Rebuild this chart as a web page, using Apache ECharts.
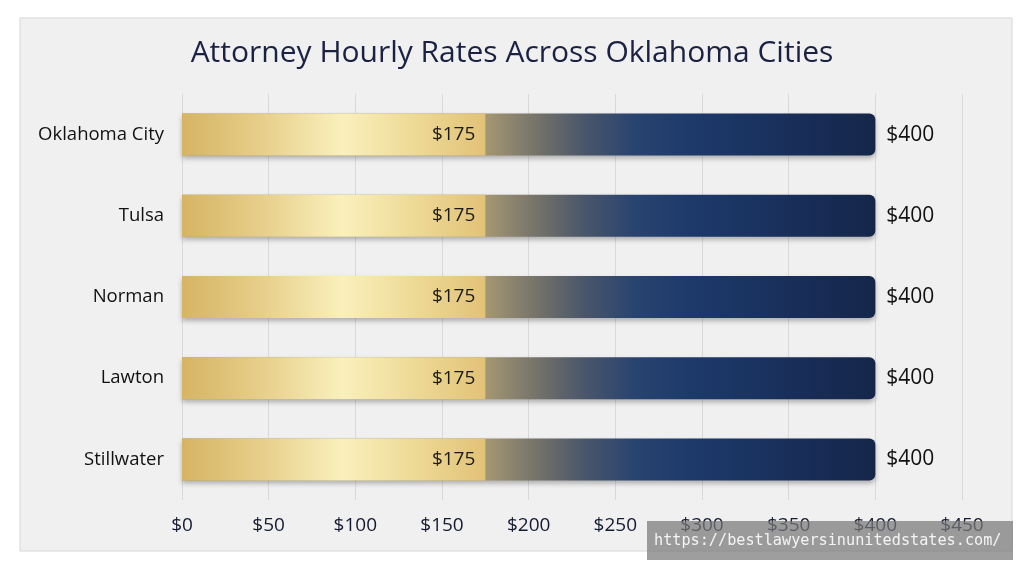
<!DOCTYPE html>
<html>
<head>
<meta charset="utf-8">
<script src="https://cdn.jsdelivr.net/npm/echarts@6/dist/echarts.min.js"></script>
<style>
	html, body { margin: 0; padding: 0; background: #fff; }
	#chart { width: 1024px; height: 572px; }
</style>
</head>
<body>
<div id="chart"></div>
<script>
// data
var cities = ['Oklahoma City', 'Tulsa', 'Norman', 'Lawton', 'Stillwater'];
var lowRates = [175, 175, 175, 175, 175];   // 低端费率
var highRates = [400, 400, 400, 400, 400];  // 高端费率
var axisMax = 450;
var axisStep = 50;

var FONT = '"Open Sans", "Noto Sans", sans-serif';

var chart = echarts.init(document.getElementById('chart'));

var option = {
	backgroundColor: '#ffffff',
	animation: false,
	title: {
		text: 'Attorney Hourly Rates Across Oklahoma Cities',
		left: 'center',
		top: 33,
		textStyle: {
			fontFamily: FONT,
			fontSize: 30,
			fontWeight: 'normal',
			color: '#1b2142'
		}
	},
	graphic: [
		{ // 背景面板
			type: 'rect',
			z: -10,
			shape: { x: 20, y: 18, width: 992, height: 533 },
			style: { fill: '#f0f0f0', stroke: '#d6d6d6', lineWidth: 1 }
		},
		{ // 水印
			type: 'rect',
			z: 100,
			shape: { x: 647, y: 521, width: 366, height: 39 },
			style: { fill: 'rgba(120,120,120,0.72)' }
		},
		{
			type: 'text',
			z: 101,
			left: 654,
			top: 534,
			style: {
				text: 'https://bestlawyersinunitedstates.com/',
				fill: '#f4f4f4',
				font: '15.2px "DejaVu Sans Mono", monospace'
			}
		}
	],
	grid: {
		left: 182,
		right: 62,
		top: 94,
		bottom: 72
	},
	xAxis: {
		type: 'value',
		min: 0,
		max: axisMax,
		interval: axisStep,
		axisLine: { show: false },
		axisTick: { show: false },
		splitLine: { lineStyle: { color: '#d9d9d9', width: 1 } },
		axisLabel: {
			formatter: function(v) { return '$' + v; },
			fontFamily: FONT,
			fontSize: 19,
			color: '#151a30',
			margin: 16
		}
	},
	yAxis: {
		type: 'category',
		data: cities,
		inverse: true,
		axisLine: { show: false },
		axisTick: { show: false },
		axisLabel: {
			fontFamily: FONT,
			fontSize: 18.5,
			color: '#111111',
			margin: 18
		}
	},
	series: [
		{
			name: 'High',
			type: 'bar',
			data: highRates,
			barWidth: 42,
			barGap: '-100%',
			z: 2,
			itemStyle: {
				borderRadius: [0, 6, 6, 0],
				shadowColor: 'rgba(0,0,0,0.28)',
				shadowBlur: 5,
				shadowOffsetY: 3,
				color: {
					type: 'linear', x: 0, y: 0, x2: 1, y2: 0,
					colorStops: [
						{ offset: 0, color: '#a89a72' },
						{ offset: 0.44, color: '#a39672' },
						{ offset: 0.51, color: '#76736a' },
						{ offset: 0.58, color: '#4a566a' },
						{ offset: 0.65, color: '#2a4470' },
						{ offset: 0.73, color: '#1d3a6b' },
						{ offset: 0.86, color: '#19305c' },
						{ offset: 1, color: '#15264a' }
					]
				}
			},
			label: {
				show: true,
				position: 'right',
				distance: 11,
				formatter: function(p) { return '$' + p.value; },
				fontFamily: FONT,
				fontSize: 21,
				color: '#111111'
			}
		},
		{
			name: 'Low',
			type: 'bar',
			data: lowRates,
			barWidth: 42,
			z: 3,
			itemStyle: {
				color: {
					type: 'linear', x: 0, y: 0, x2: 1, y2: 0,
					colorStops: [
						{ offset: 0, color: '#d6b464' },
						{ offset: 0.25, color: '#e6cd88' },
						{ offset: 0.53, color: '#faf0bc' },
						{ offset: 0.75, color: '#eedb98' },
						{ offset: 1, color: '#e2c278' }
					]
				}
			},
			label: {
				show: true,
				position: 'insideRight',
				distance: 10,
				formatter: function(p) { return '$' + p.value; },
				fontFamily: FONT,
				fontSize: 19,
				color: '#1a1a1a'
			}
		}
	]
};

chart.setOption(option);
</script>
</body>
</html>
